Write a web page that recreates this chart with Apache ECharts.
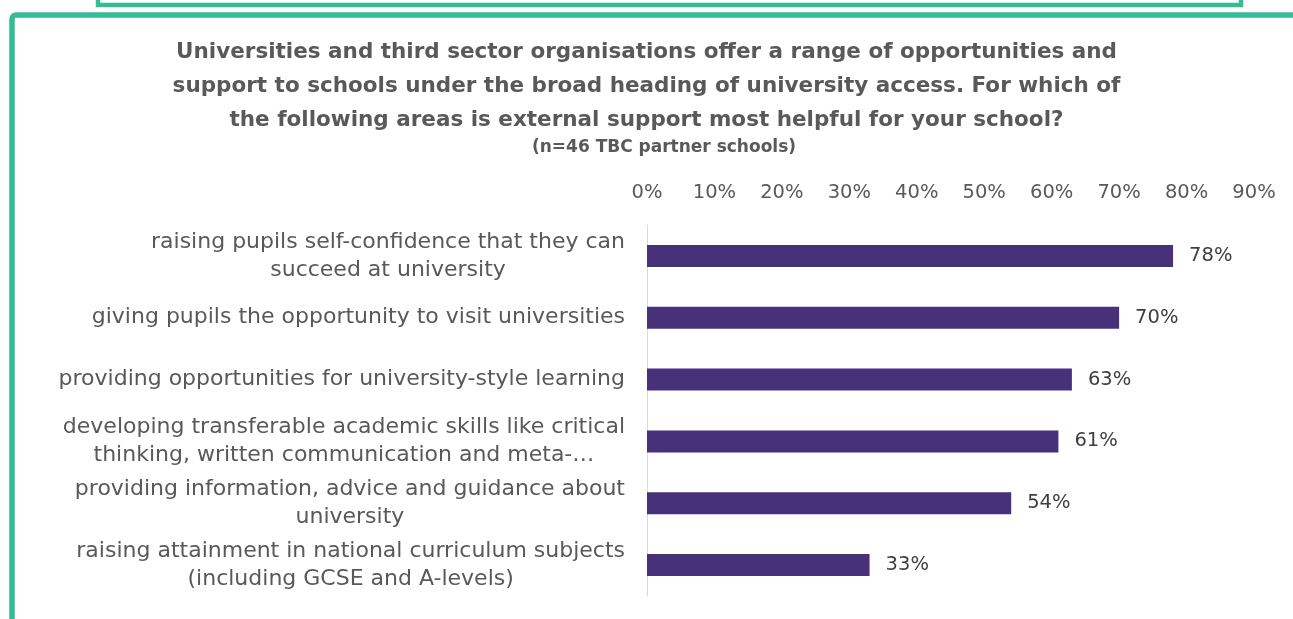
<!DOCTYPE html>
<html>
<head>
<meta charset="utf-8">
<script src="https://cdn.jsdelivr.net/npm/echarts@6/dist/echarts.min.js"></script>
<style>
  html, body { margin: 0; padding: 0; background: #ffffff; }
  #chart { width: 1293px; height: 619px; }
</style>
</head>
<body>
<div id="chart"></div>
<script>
// Survey answer areas, top to bottom (line breaks as shown on the axis)
const categories = [
  'raising pupils self-confidence that they can\nsucceed at university',
  'giving pupils the opportunity to visit universities',
  'providing opportunities for university-style learning',
  'developing transferable academic skills like critical\nthinking, written communication and meta-…',
  'providing information, advice and guidance about\nuniversity',
  'raising attainment in national curriculum subjects\n(including GCSE and A-levels)'
];

// Share of schools finding external support most helpful (%)
const values = [78, 70, 63, 61, 54, 33];

// Percentage axis ticks
const axisMin = 0;
const axisMax = 90;
const axisStep = 10;

const titleLines = [
  'Universities and third sector organisations offer a range of opportunities and',
  'support to schools under the broad heading of university access. For which of',
  'the following areas is external support most helpful for your school?'
];
const subtitle = '(n=46 TBC partner schools)';

const GREEN = '#35bb95';
const TEXT = '#595959';
const FONT = '"DejaVu Sans", "Noto Sans", sans-serif';

const chart = echarts.init(document.getElementById('chart'), null, { renderer: 'canvas' });

chart.setOption({
  backgroundColor: '#ffffff',
  animation: false,
  title: [
    {
      text: titleLines.join('\n'),
      left: 'center',
      top: 30,
      textStyle: {
        fontFamily: FONT,
        fontSize: 21.5,
        fontWeight: 'bold',
        color: TEXT,
        lineHeight: 34
      }
    },
    {
      text: subtitle,
      left: 659,
      textAlign: 'center',
      top: 134,
      textStyle: {
        fontFamily: FONT,
        fontSize: 17,
        fontWeight: 'bold',
        color: TEXT
      }
    }
  ],
  grid: {
    left: 647,
    right: 39,
    top: 225,
    bottom: 23,
    containLabel: false
  },
  xAxis: {
    type: 'value',
    position: 'top',
    min: axisMin,
    max: axisMax,
    interval: axisStep,
    axisLine: { show: false },
    axisTick: { show: false },
    splitLine: { show: false },
    axisLabel: {
      formatter: '{value}%',
      margin: 22,
      fontFamily: FONT,
      fontSize: 19.5,
      color: TEXT
    }
  },
  yAxis: {
    type: 'category',
    inverse: true,
    data: categories,
    axisLine: { show: true, lineStyle: { color: '#d9d9d9', width: 1 } },
    axisTick: { show: false },
    axisLabel: {
      margin: 22,
      align: 'right',
      formatter: function (v) {
        return v.split('\n').map(function (l) { return '{c|' + l + '}'; }).join('\n');
      },
      rich: {
        c: {
          align: 'center',
          fontFamily: FONT,
          fontSize: 22,
          color: TEXT,
          lineHeight: 28
        }
      }
    }
  },
  series: [
    {
      type: 'bar',
      data: values,
      barWidth: 22,
      itemStyle: { color: '#473178' },
      label: {
        show: true,
        position: 'right',
        distance: 16,
        formatter: '{c}%',
        fontFamily: FONT,
        fontSize: 19.5,
        color: '#404040'
      }
    }
  ],
  graphic: [
    {
      // upper panel edge
      type: 'rect',
      shape: { x: 98, y: -30, width: 1143, height: 35 },
      style: { fill: 'none', stroke: GREEN, lineWidth: 4.5 },
      silent: true
    },
    {
      // main panel frame
      type: 'rect',
      shape: { x: 12, y: 15, width: 1400, height: 700, r: 4 },
      style: { fill: 'none', stroke: GREEN, lineWidth: 5.5 },
      silent: true
    }
  ]
});
</script>
</body>
</html>
